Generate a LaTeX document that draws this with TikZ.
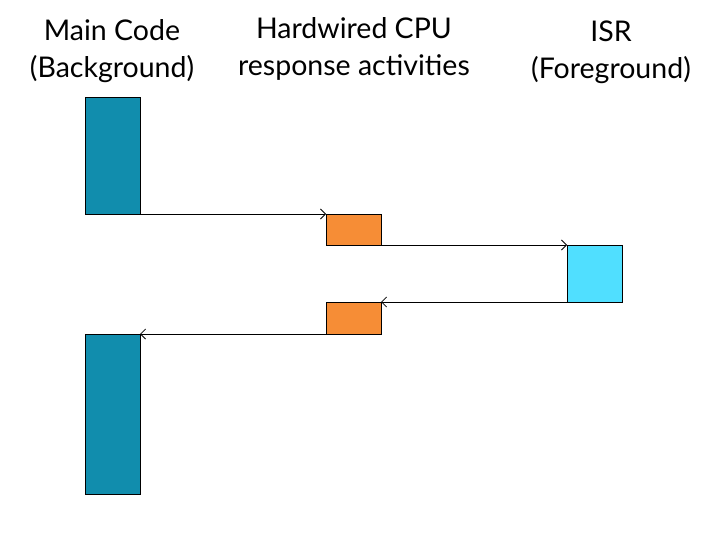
\documentclass[tikz,border=0pt]{standalone}
\usepackage{fontspec}
\setmainfont{Lato}
\usetikzlibrary{arrows.meta}
\definecolor{teal1}{HTML}{118DAD}
\definecolor{orng}{HTML}{F68D36}
\definecolor{cyanb}{HTML}{50DFFF}
\begin{document}
\begin{tikzpicture}[x=1pt,y=-1pt,
  blk/.style={draw=black,line width=1pt,inner sep=0pt,outer sep=0pt,anchor=north west},
  lbl/.style={align=center,font=\fontsize{28.5}{37}\selectfont,inner sep=0pt},
  conn/.style={draw=black,line width=1pt,-{Straight Barb[length=5pt,width=10pt,line width=0.8pt]}}]
\useasboundingbox (0,0) rectangle (708,540);
\node[lbl] (t1) at (112,51) {Main Code\\(Background)};
\node[lbl] (t2) at (354,49) {Hardwired CPU\\response activities};
\node[lbl] (t3) at (611,52) {ISR\\(Foreground)};
\node[blk,fill=teal1,minimum width=55pt,minimum height=116pt] (m1) at (85,98) {};
\node[blk,fill=orng,minimum width=55pt,minimum height=31pt] (o1) at (326,214) {};
\node[blk,fill=cyanb,minimum width=55pt,minimum height=57pt] (isr) at (567,245) {};
\node[blk,fill=orng,minimum width=55pt,minimum height=32pt] (o2) at (326,302) {};
\node[blk,fill=teal1,minimum width=55pt,minimum height=160pt] (m2) at (85,334) {};
\draw[conn] (m1.south east) -- (o1.north west);
\draw[conn] (o1.south east) -- (isr.north west);
\draw[conn] (isr.south west) -- (o2.north east);
\draw[conn] (o2.south west) -- (m2.north east);
\end{tikzpicture}
\end{document}
